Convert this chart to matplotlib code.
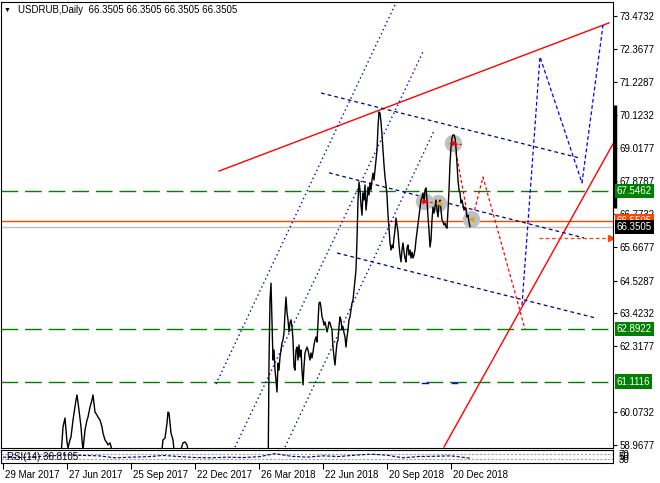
import numpy as np
import matplotlib.pyplot as plt
from matplotlib.transforms import blended_transform_factory, ScaledTranslation

plt.rcParams['font.family'] = ['Liberation Sans', 'DejaVu Sans']
plt.rcParams['font.size'] = 7

# daily closes, bar 0 = 29 Mar 2017 (values below 58.87 are off the chart)
early_bars = [0, 17, 37, 52, 58, 60, 62, 64, 65, 67, 68, 70, 72, 73, 74, 76, 78, 79, 80,
              82, 84, 85, 87, 89, 90, 92, 94, 95, 97, 99, 100, 102, 104, 105, 107, 109,
              112, 122, 137, 152, 158, 160, 162, 164, 165, 166, 168, 170, 171, 175, 180,
              182, 184, 185, 192, 207, 227, 247, 262, 265]
early_close = [57.0, 56.6, 56.5, 57.8, 58.6, 59.58, 59.88, 59.07, 58.87, 59.14, 59.24,
               59.81, 60.25, 60.49, 60.66, 60.15, 59.58, 59.14, 58.80, 59.48, 59.81, 59.91,
               60.25, 60.49, 60.66, 60.08, 59.98, 59.91, 59.81, 59.58, 59.37, 59.14, 59.04,
               58.97, 59.04, 58.80, 58.3, 57.8, 57.6, 58.0, 58.5, 59.14, 59.20, 59.71,
               60.08, 60.05, 59.37, 59.14, 58.80, 58.5, 59.04, 59.07, 58.97, 58.80, 58.0,
               57.2, 56.8, 56.5, 57.3, 57.6]

recent_start = 266
recent_close = [
    61.74, 63.87, 64.44, 63.10, 61.84, 62.18, 61.50, 61.17, 60.76, 61.74,
    61.50, 61.94, 62.18, 62.42, 62.52, 62.76, 63.44, 63.97, 63.44, 63.20,
    62.79, 63.10, 63.20, 62.97, 62.52, 61.61, 61.50, 62.18, 62.28, 61.84,
    62.35, 61.94, 62.18, 61.50, 61.00, 61.61, 62.08, 62.18, 62.28, 62.18,
    62.01, 61.84, 62.08, 61.91, 62.11, 62.35, 62.52, 62.62, 62.45, 63.10,
    63.77, 63.80, 63.63, 63.30, 63.20, 63.02, 63.13, 62.97, 62.79, 62.92,
    63.13, 63.10, 62.97, 62.86, 62.28, 61.94, 61.67, 62.08, 62.42, 62.52,
    62.97, 63.30, 63.20, 62.86, 62.97, 62.76, 62.62, 62.28, 62.62, 62.86,
    63.20, 63.30, 63.53, 63.77, 63.87, 64.21, 64.55, 64.89, 65.90, 67.25,
    67.86, 67.59, 67.08, 66.74, 67.49, 67.25, 67.76, 66.91, 67.25, 67.69,
    67.42, 67.83, 67.59, 67.93, 68.16, 67.93, 68.27, 68.60, 68.94, 69.72,
    70.23, 70.19, 69.89, 69.45, 68.94, 68.44, 68.03, 67.76, 67.42, 66.74,
    66.30, 65.80, 65.56, 65.73, 65.63, 65.97, 66.24, 66.64, 66.41, 66.17,
    65.73, 65.39, 65.16, 65.56, 65.80, 65.49, 65.29, 65.16, 65.63, 65.73,
    65.39, 65.56, 65.29, 65.49, 65.29, 65.39, 65.56, 65.90, 66.17, 66.47,
    66.74, 67.01, 67.25, 67.35, 67.49, 67.15, 67.59, 67.66, 67.25, 66.68,
    66.24, 65.66, 65.90, 66.58, 67.01, 66.81, 67.01, 67.25, 66.91, 66.68,
    67.15, 67.25, 66.91, 66.58, 66.51, 66.41, 66.47, 66.34, 66.30, 66.91,
    67.59, 68.50, 69.04, 69.35, 69.45, 69.45, 69.35, 69.01, 68.44, 67.93,
    67.59, 67.49, 67.15, 67.25, 67.08, 66.91, 67.01, 66.91, 66.68, 66.74,
    66.51, 66.3505]

rsi_bars = [0, 16, 32, 48, 64, 80, 96, 112, 128, 144, 160, 176, 192, 208, 224, 240,
            256, 272, 288, 304, 320, 336, 352, 368, 384, 400, 416, 432, 448, 464, 467]
rsi_vals = [45, 42, 48, 55, 62, 58, 55, 40, 45, 48, 58, 50, 42, 40, 45, 42,
            48, 72, 52, 45, 55, 50, 60, 68, 60, 40, 50, 52, 55, 40, 36.81]

tick_bars = [0, 64, 128, 192, 256, 320, 384, 448]
tick_dates = ['29 Mar 2017', '27 Jun 2017', '25 Sep 2017', '22 Dec 2017',
              '26 Mar 2018', '22 Jun 2018', '20 Sep 2018', '20 Dec 2018']
price_ticks = [73.4732, 72.3677, 71.2287, 70.1232, 69.0177, 67.8787, 66.7732,
               65.6677, 64.5287, 63.4232, 62.3177, 60.0732, 58.9677]

levels = [67.5462, 62.8922, 61.1116]
ask_price = 66.5505
bid_price = 66.3505

# drawn objects: (bar, price) end points
red_trend = [[(216, 68.23), (606, 73.24)], [(441, 58.90), (610, 69.15)]]
up_channel = [[(213, 61.03), (392, 73.85)], [(232, 58.90), (420, 72.26)],
              [(282, 58.90), (431, 69.59)]]
down_channel = [[(318, 70.87), (577, 68.67)], [(326, 68.17), (581, 65.97)],
                [(334, 65.46), (593, 63.26)]]
blue_path = [(519, 63.70), (537, 72.09), (579, 67.83), (600, 73.17)]
red_path = [(452, 69.05), (467, 66.30), (480, 68.03), (522, 62.89)]
orange_arrow = [(536, 65.97), (610, 65.97)]
circles = [(450, 69.18), (421, 67.22), (435, 67.15), (468, 66.61)]
small_marks = [(419, 425, 61.07), (449, 454, 61.05)]

W, H = 660, 483
fig = plt.figure(figsize=(W / 100, H / 100), dpi=100)


def px_axes(l, t, r, b):
    return fig.add_axes([l / W, 1 - b / H, (r - l) / W, (b - t) / H])


ax = px_axes(1, 2, 613, 448)
rsi = px_axes(1, 450, 613, 463)

ax.set_xlim(-2, 610)
ax.set_ylim(58.8664, 73.9466)

# horizontal levels
for lv in levels:
    ax.axhline(lv, color='#008000', lw=1, dashes=(12, 5), zorder=1)
ax.axhline(ask_price, color='#ff4500', lw=1, zorder=1)
ax.axhline(bid_price, color='#c0c0c0', lw=1, zorder=1)

# trend lines / channels
for (a, b) in red_trend:
    ax.plot([a[0], b[0]], [a[1], b[1]], color='#ff0000', lw=1, zorder=2)
for (a, b) in up_channel:
    ax.plot([a[0], b[0]], [a[1], b[1]], color='#0000c8', lw=1,
            linestyle=(0, (1, 2.2)), zorder=2)
for (a, b) in down_channel:
    ax.plot([a[0], b[0]], [a[1], b[1]], color='#000080', lw=0.9,
            linestyle=(0, (3, 2.5)), zorder=2)
ax.plot([p[0] for p in blue_path], [p[1] for p in blue_path], color='#0000ff',
        lw=0.9, linestyle=(0, (3, 2)), zorder=2)
ax.plot([p[0] for p in red_path], [p[1] for p in red_path], color='#ff0000',
        lw=0.9, linestyle=(0, (2.5, 2)), zorder=2)
ax.plot([p[0] for p in orange_arrow], [p[1] for p in orange_arrow], color='#ff4500',
        lw=0.9, linestyle=(0, (3, 2)), zorder=2)
ax.plot(orange_arrow[1][0] - 2, orange_arrow[1][1], marker='>', color='#ff4500',
        ms=5, zorder=2)
for x0, x1, y in small_marks:
    ax.plot([x0, x1], [y, y], color='#0000ff', lw=1, zorder=2)

# gray markers
cx = [c[0] for c in circles]
cy = [c[1] for c in circles]
ax.plot(cx, cy, 'o', color='#c0c0c0', ms=12.5, mec='none', zorder=3)

# price line
bars = np.concatenate([early_bars, recent_start + np.arange(len(recent_close))])
close = np.concatenate([early_close, recent_close])
ax.plot(bars, close, color='black', lw=1, zorder=4)

# symbols inside markers
for x, y in circles[:2]:
    ax.plot([x - 3, x + 1], [y, y], color='#ff0000', lw=1, zorder=5)
    ax.plot(x + 1, y, marker='>', color='#ff0000', ms=4, mec='none', zorder=5)
    ax.plot([x + 2, x + 9], [y - 0.05, y - 0.05], color='#ff0000', lw=0.8,
            linestyle=(0, (2, 1.5)), zorder=5)
for x, y in circles[2:]:
    ax.plot(x, y, marker='<', color='#daa520', ms=5, mec='none', zorder=5)

# axes styling
for s in ax.spines.values():
    s.set_linewidth(0.8)
ax.set_xticks([])
ax.yaxis.tick_right()
ax.set_yticks(price_ticks)
ax.set_yticklabels(['%.4f' % v for v in price_ticks])
ax.tick_params(axis='y', direction='out', length=3, width=0.8, pad=2, labelsize=7)

trans = blended_transform_factory(ax.transAxes, ax.transData)
for val, fc in [(levels[0], '#008000'), (levels[1], '#008000'), (levels[2], '#008000'),
                (ask_price, '#ff4500'), (bid_price, '#000000')]:
    ax.text(1.006, val, '%.4f' % val, transform=trans, color='white', fontsize=7,
            va='center', ha='left', zorder=10, clip_on=False,
            bbox=dict(boxstyle='square,pad=0.22', fc=fc, ec='none'))

# thick bar at right edge
ax.plot([1.003, 1.003], [66.98, 70.46], transform=trans, color='black', lw=2.5,
        clip_on=False, solid_capstyle='butt')

fig.text(4 / W, 1 - 10 / H, '\u25bc', fontsize=5, va='center', ha='left')
fig.text(18 / W, 1 - 10 / H, 'USDRUB,Daily  66.3505 66.3505 66.3505 66.3505',
         fontsize=7, va='center', ha='left')

# RSI sub window
rsi.set_xlim(-2, 610)
rsi.set_ylim(0, 100)
for lv in [70, 30]:
    rsi.axhline(lv, color='#a0a0a0', lw=0.8, linestyle=(0, (2, 1.5)))
rsi.plot(rsi_bars, rsi_vals, color='#000080', lw=0.8, linestyle=(0, (3, 1.5)))
rsi.text(4, 8, 'RSI(14) 36.8105', fontsize=7, va='bottom', ha='left', clip_on=True)
for s in rsi.spines.values():
    s.set_linewidth(0.8)
# MT4 stacks the level labels of the thin window on top of each other
rsi.yaxis.tick_right()
rsi.set_yticks([30, 50, 70])
rsi.set_yticklabels(['30', '50', '70'])
rsi.tick_params(axis='y', length=0, pad=4, labelsize=7)
rsi.set_xticks(tick_bars)
rsi.set_xticklabels(tick_dates, ha='left')
rsi.tick_params(axis='x', direction='out', length=4, width=0.8, pad=1, labelsize=7)
for lab in rsi.get_xticklabels():
    lab.set_transform(lab.get_transform() + ScaledTranslation(2 / 100, 0, fig.dpi_scale_trans))

fig.savefig('out.png', dpi=100)
